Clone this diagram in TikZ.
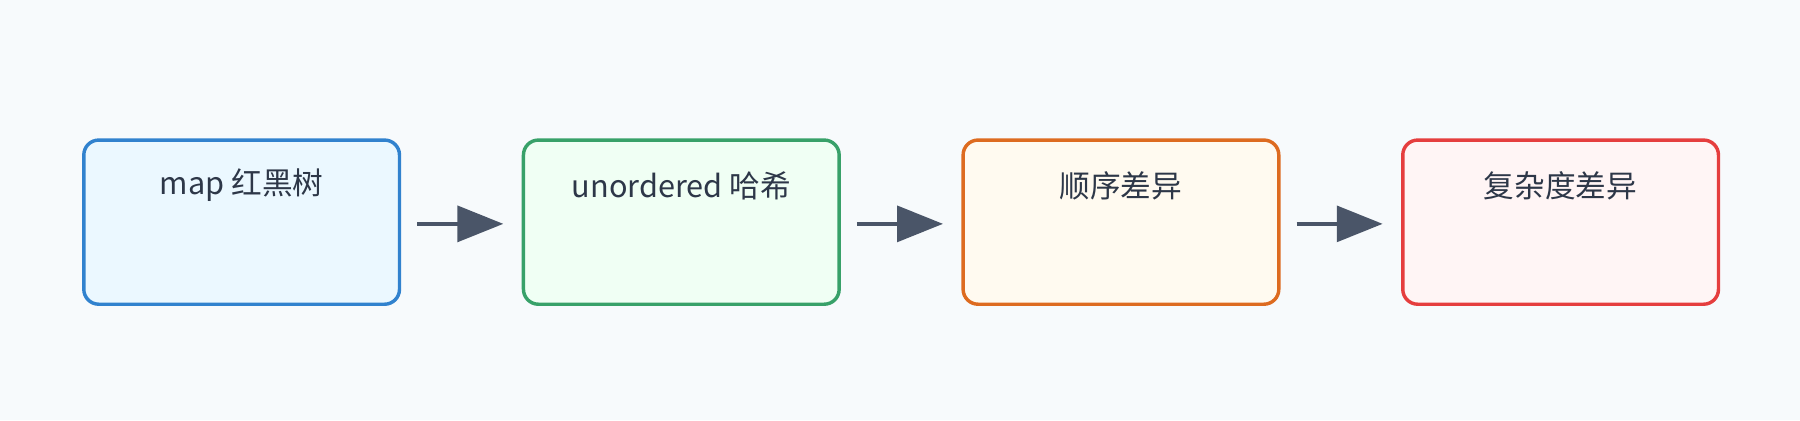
\documentclass[tikz,border=0pt]{standalone}
\usepackage{fontspec}
\setmainfont{Noto Sans CJK SC}
\usetikzlibrary{positioning,arrows.meta}
\definecolor{bgc}{HTML}{F7FAFC}
\definecolor{txt}{HTML}{2D3748}
\definecolor{arr}{HTML}{4A5568}
\definecolor{cblue}{HTML}{3182CE}
\definecolor{fblue}{HTML}{EBF8FF}
\definecolor{cgreen}{HTML}{38A169}
\definecolor{fgreen}{HTML}{F0FFF4}
\definecolor{corange}{HTML}{DD6B20}
\definecolor{forange}{HTML}{FFFAF0}
\definecolor{cred}{HTML}{E53E3E}
\definecolor{fred}{HTML}{FFF5F5}
\tikzset{
  box/.style={draw=c#1, fill=f#1, line width=0.85pt, rounded corners=0.13cm,
    minimum width=2.75cm, minimum height=1.43cm, inner sep=0pt},
  title/.style={anchor=center, yshift=-0.41cm, text=txt, font=\fontsize{7.6}{9}\selectfont},
  flow/.style={draw=arr, line width=1.1pt, shorten <=0.14cm, shorten >=0.16cm,
    -{Triangle[length=0.4cm,width=0.31cm]}}
}
\begin{document}
\begin{tikzpicture}
  \fill[bgc] (0,0) rectangle (15.68,-3.66);
  \useasboundingbox (0,0) rectangle (15.68,-3.66);

  \node[box=blue] (map) at (2.105,-1.935) {};
  \node[title] (maplbl) at (map.north) {map 红黑树};
  \node[box=green, right=1.05cm of map] (hash) {};
  \node[title] (hashlbl) at (hash.north) {unordered 哈希};
  \node[box=orange, right=1.05cm of hash] (order) {};
  \node[title] (orderlbl) at (order.north) {顺序差异};
  \node[box=red, right=1.05cm of order] (cplx) {};
  \node[title] (cplxlbl) at (cplx.north) {复杂度差异};

  \draw[flow] ([yshift=-0.015cm]map.east) -- ([yshift=-0.015cm]hash.west);
  \draw[flow] ([yshift=-0.015cm]hash.east) -- ([yshift=-0.015cm]order.west);
  \draw[flow] ([yshift=-0.015cm]order.east) -- ([yshift=-0.015cm]cplx.west);
\end{tikzpicture}
\end{document}
